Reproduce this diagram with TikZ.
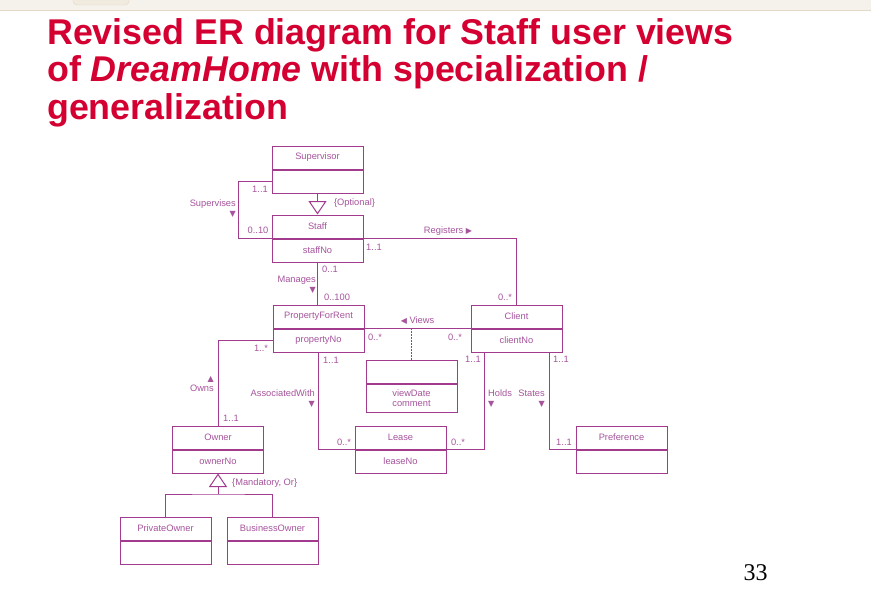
\documentclass[tikz,border=0pt]{standalone}
\usepackage{fontspec}
\setmainfont{Liberation Sans}
\newfontfamily\numfont{Liberation Serif}
\newfontfamily\symfont{DejaVu Sans}
\usetikzlibrary{arrows.meta}

\definecolor{erline}{RGB}{162,58,142}
\definecolor{ertext}{RGB}{166,84,156}
\definecolor{titlered}{RGB}{212,0,50}
\definecolor{bandfill}{RGB}{245,242,236}
\definecolor{bandline}{RGB}{228,216,200}
\definecolor{tabfill}{RGB}{241,234,223}

\newcommand{\arrdown}{{\symfont\fontsize{8}{8}\selectfont ▼}}
\newcommand{\arrup}{{\symfont\fontsize{8}{8}\selectfont ▲}}
\newcommand{\arrright}{{\symfont\fontsize{8}{8}\selectfont ▶}}
\newcommand{\arrleft}{{\symfont\fontsize{8}{8}\selectfont ◀}}

\begin{document}
\begin{tikzpicture}[x=1pt,y=-1pt,inner sep=0pt,
  entity/.style={draw=erline,line width=1pt,minimum width=91pt,minimum height=23pt,
    text=ertext,font=\fontsize{9.3}{10.5}\selectfont},
  lbl/.style={text=ertext,font=\fontsize{9.3}{10}\selectfont},
  rel/.style={draw=erline,line width=1pt},
  gen/.style={rel,-{Triangle[open,length=13.5pt,width=18pt,fill=white]}},
  title/.style={text=titlered,anchor=base west,font=\fontsize{35.8}{38}\selectfont\bfseries}]

\useasboundingbox (0,0) rectangle (871,594);
\fill[white] (0,0) rectangle (871,594);

\fill[bandfill] (0,0) rectangle (871,10);
\draw[bandline] (0,10) -- (871,10);
\draw[bandline,fill=tabfill,rounded corners=4pt] (73,-2) -- (73,5) -- (129,5) -- (129,-2);

\node[title] (title1) at (47,45) {Revised ER diagram for Staff user views};
\node[title] (title2) at (47,82) {of \textit{DreamHome} with specialization /};
\node[title] (title3) at (47,119) {generalization};

\node[entity] (supervisor) at (317.5,157.5) {Supervisor};
\node[entity,anchor=north] (supervisorattr) at (supervisor.south) {};
\node[entity] (staff) at (317.5,226.5) {Staff};
\node[entity,anchor=north] (staffattr) at (staff.south) {staffNo};

\node[entity] (pfr) at (318.5,316.5) {PropertyForRent};
\node[entity,anchor=north] (pfrattr) at (pfr.south) {propertyNo};
\node[entity] (client) at (516.5,316.5) {Client};
\node[entity,anchor=north] (clientattr) at (client.south) {clientNo};

\node[entity] (viewing) at (411.5,371.5) {};
\node[entity,anchor=north,minimum height=28pt,align=center] (viewingattr) at (viewing.south) {viewDate\\comment};

\node[entity] (lease) at (400.5,437.5) {Lease};
\node[entity,anchor=north] (leaseattr) at (lease.south) {leaseNo};
\node[entity] (preference) at (621.5,437.5) {Preference};
\node[entity,anchor=north] (preferenceattr) at (preference.south) {};

\node[entity] (owner) at (218,437.5) {Owner};
\node[entity,anchor=north] (ownerattr) at (owner.south) {ownerNo};
\node[entity] (privateowner) at (165.5,528.5) {PrivateOwner};
\node[entity,anchor=north] (privateownerattr) at (privateowner.south) {};
\node[entity] (businessowner) at (272.5,528.5) {BusinessOwner};
\node[entity,anchor=north] (businessownerattr) at (businessowner.south) {};

\draw[rel] (supervisorattr.west) -- ++(-33,0) |- (staff.south west);
\draw[gen] (supervisorattr.south) -- (staff.north);
\draw[rel] (staff.south east) -| (client.north);
\draw[rel] (staffattr.south) -- (staffattr.south |- pfr.north);
\draw[rel] (pfr.south east) -- (client.south west);
\draw[rel,dash pattern=on 1.5pt off 1.5pt] (viewing.north) -- (viewing.north |- pfr.south);
\draw[rel] (pfrattr.south) |- (lease.south west);
\draw[rel] ([xshift=-32.5pt]clientattr.south) |- (lease.south east);
\draw[rel] ([xshift=32.5pt]clientattr.south) |- (preference.south west);
\draw[rel] (pfrattr.west) -| (owner.north);

\coordinate (ownerjoin) at (218,494);
\draw[rel] (privateowner.north) |- (ownerjoin) -| (businessowner.north);
\draw[gen] (ownerjoin) -- (ownerattr.south);

\node[lbl] (supmult) at (260,189) {1..1};
\node[lbl] (supstaffmult) at (258,230) {0..10};
\node[lbl,align=right,anchor=north east] (supervises) at (236,199.5) {Supervises\\\arrdown};
\node[lbl] (optional) at (354.5,203) {\{Optional\}};

\node[lbl] (regstaffmult) at (374,247) {1..1};
\node[lbl] (registers) at (448,231) {Registers \arrright};
\node[lbl] (regclientmult) at (505,297) {0..*};

\node[lbl] (manstaffmult) at (330,269) {0..1};
\node[lbl,align=right,anchor=north east] (manages) at (316,275.5) {Manages\\\arrdown};
\node[lbl] (manpfrmult) at (337,297) {0..100};

\node[lbl] (views) at (417.5,321) {\arrleft\ Views};
\node[lbl] (viewpfrmult) at (375,337) {0..*};
\node[lbl] (viewclientmult) at (455,337) {0..*};

\node[lbl] (asspfrmult) at (331,360) {1..1};
\node[lbl,align=right,anchor=north east] (associated) at (315,389.5) {AssociatedWith\\\arrdown};
\node[lbl] (assleasemult) at (344,442) {0..*};

\node[lbl] (holdclientmult) at (473,359) {1..1};
\node[lbl,align=left,anchor=north west] (holds) at (488,389.5) {Holds\\\arrdown};
\node[lbl] (holdleasemult) at (458,442) {0..*};

\node[lbl] (stateclientmult) at (561,359) {1..1};
\node[lbl,align=right,anchor=north east] (states) at (545,389.5) {States\\\arrdown};
\node[lbl] (stateprefmult) at (564,442) {1..1};

\node[lbl] (ownpfrmult) at (261,348) {1..*};
\node[lbl,align=right,anchor=south east] (owns) at (214,391.5) {\arrup\\Owns};
\node[lbl] (ownownermult) at (231,418) {1..1};
\node[lbl,anchor=west] (mandatory) at (232,483) {\{Mandatory, Or\}};

\node[font=\numfont\fontsize{24}{24}\selectfont] (pagenum) at (755.5,573) {33};

\end{tikzpicture}
\end{document}
